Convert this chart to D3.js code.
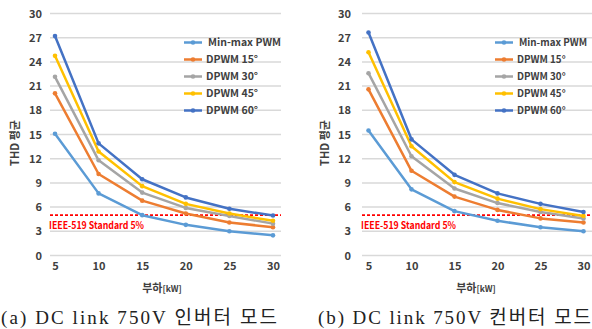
<!DOCTYPE html>
<html>
<head>
<meta charset="utf-8">
<script src="https://cdn.jsdelivr.net/npm/d3@7"></script>
<style>
  html, body { margin: 0; padding: 0; background: #fff; }
  svg { display: block; }
</style>
</head>
<body>
<svg id="chart" width="592" height="329"></svg>
<script>
// 데이터
const loads = [5, 10, 15, 20, 25, 30]
const yTicks = [0, 3, 6, 9, 12, 15, 18, 21, 24, 27, 30]
const seriesNames = ['Min-max PWM', 'DPWM 15°', 'DPWM 30°', 'DPWM 45°', 'DPWM 60°']
const seriesColors = ['#5B9BD5', '#ED7D31', '#A5A5A5', '#FFC000', '#4472C4']
const limitValue = 5

// (a) 인버터 모드
const invMinMax = [15.1, 7.7, 5.0, 3.8, 3.0, 2.5]
const invD15 = [20.1, 10.1, 6.8, 5.2, 4.1, 3.5]
const invD30 = [22.15, 11.8, 7.8, 5.9, 4.9, 3.95]
const invD45 = [24.75, 12.9, 8.6, 6.4, 5.2, 4.3]
const invD60 = [27.2, 13.9, 9.45, 7.2, 5.8, 4.95]

// (b) 컨버터 모드
const convMinMax = [15.5, 8.2, 5.5, 4.3, 3.5, 3.0]
const convD15 = [20.6, 10.5, 7.3, 5.65, 4.6, 4.1]
const convD30 = [22.6, 12.3, 8.3, 6.5, 5.4, 4.6]
const convD45 = [25.2, 13.55, 9.1, 7.05, 5.75, 4.9]
const convD60 = [27.65, 14.4, 10.0, 7.7, 6.4, 5.4]

const FONT = '"Noto Sans CJK KR", "Noto Sans", sans-serif'
const svg = d3.select('#chart')

function drawPanel(cfg) {
  const g = svg.append('g')

  const x = d3.scalePoint().domain(loads).range([cfg.x0, cfg.x1])
  const y = d3.scaleLinear().domain([0, 30]).range([255.5, 13.5])

  // 그리드
  g.append('g')
    .selectAll('line')
    .data(yTicks)
    .enter()
    .append('line')
    .attr('x1', cfg.gx0)
    .attr('x2', cfg.gx1)
    .attr('y1', d => y(d))
    .attr('y2', d => y(d))
    .attr('stroke', '#d9d9d9')
    .attr('stroke-width', 1.5)

  // y축 라벨
  const yAxis = d3.axisLeft(y).tickValues(yTicks).tickSize(0).tickPadding(0)
  const ya = g.append('g').attr('transform', `translate(${cfg.yLabelX},0)`).call(yAxis)
  ya.select('.domain').remove()
  ya.selectAll('text')
    .attr('font-family', FONT)
    .attr('font-weight', 'bold')
    .attr('font-size', 11)
    .attr('fill', '#404040')

  // x축 라벨
  const xAxis = d3.axisBottom(x).tickSize(0).tickPadding(0)
  const xa = g.append('g').attr('transform', 'translate(0,262)').call(xAxis)
  xa.select('.domain').remove()
  xa.selectAll('text')
    .attr('font-family', FONT)
    .attr('font-weight', 'bold')
    .attr('font-size', 11)
    .attr('fill', '#404040')

  // 기준선 5%
  g.append('line')
    .attr('x1', cfg.gx0)
    .attr('x2', cfg.gx1)
    .attr('y1', y(limitValue))
    .attr('y2', y(limitValue))
    .attr('stroke', '#ff0000')
    .attr('stroke-width', 1.8)
    .attr('stroke-dasharray', '3,2')

  g.append('text')
    .attr('x', cfg.gx0 - 1)
    .attr('y', y(limitValue) + 14)
    .attr('font-family', FONT)
    .attr('font-weight', 'bold')
    .attr('font-size', 10)
    .attr('fill', '#ff0000')
    .attr('textLength', 95)
    .attr('lengthAdjust', 'spacingAndGlyphs')
    .text('IEEE-519 Standard 5%')

  // 선 + 마커
  const line = d3.line().x((d, i) => x(loads[i])).y(d => y(d))
  cfg.series.forEach((vals, k) => {
    g.append('path')
      .attr('d', line(vals))
      .attr('fill', 'none')
      .attr('stroke', seriesColors[k])
      .attr('stroke-width', 2.5)
      .attr('stroke-linejoin', 'round')
    g.append('g')
      .selectAll('circle')
      .data(vals)
      .enter()
      .append('circle')
      .attr('cx', (d, i) => x(loads[i]))
      .attr('cy', d => y(d))
      .attr('r', 2.3)
      .attr('fill', seriesColors[k])
  })

  // 범례
  const lg = g.append('g').attr('transform', `translate(${cfg.legX},42.5)`)
  seriesNames.forEach((name, k) => {
    const row = lg.append('g').attr('transform', `translate(0,${k * 17})`)
    row.append('line')
      .attr('x1', 0).attr('x2', 18)
      .attr('stroke', seriesColors[k])
      .attr('stroke-width', 2.5)
    row.append('circle').attr('cx', 9).attr('r', 2.3).attr('fill', seriesColors[k])
    row.append('text')
      .attr('x', k === 0 ? 24 : 22)
      .attr('dy', '0.35em')
      .attr('font-family', FONT)
      .attr('font-weight', 'bold')
      .attr('font-size', cfg.legFont)
      .attr('fill', '#404040')
      .text(name)
  })

  // y축 제목
  g.append('text')
    .attr('transform', `translate(${cfg.yTitleX},143) rotate(-90)`)
    .attr('text-anchor', 'middle')
    .attr('dy', '0.35em')
    .attr('font-family', FONT)
    .attr('font-weight', 'bold')
    .attr('font-size', 11)
    .attr('fill', '#404040')
    .text('THD 평균')

  // x축 제목
  const xt = g.append('text')
    .attr('x', cfg.xTitleX)
    .attr('y', 292)
    .attr('text-anchor', 'middle')
    .attr('font-family', FONT)
    .attr('font-weight', 'bold')
    .attr('fill', '#404040')
  xt.append('tspan').attr('font-size', 11).text('부하')
  xt.append('tspan').attr('font-size', 8.5).text('[kW]')

  // 캡션
  g.append('text')
    .attr('x', cfg.capX)
    .attr('y', 324)
    .attr('font-family', '"Liberation Serif", "Noto Sans CJK KR", serif')
    .attr('font-size', 19)
    .attr('fill', '#222')
    .attr('textLength', cfg.capW)
    .attr('lengthAdjust', 'spacing')
    .text(cfg.caption)
}

drawPanel({
  x0: 55, x1: 273, gx0: 50, gx1: 281,
  yLabelX: 42, yTitleX: 15, xTitleX: 162, legX: 184, legFont: 10.5,
  capX: 1, capW: 276,
  caption: '(a) DC link 750V 인버터 모드',
  series: [invMinMax, invD15, invD30, invD45, invD60]
})

drawPanel({
  x0: 368.5, x1: 583.5, gx0: 362, gx1: 592,
  yLabelX: 351, yTitleX: 325, xTitleX: 476, legX: 495, legFont: 9.8,
  capX: 318, capW: 273,
  caption: '(b) DC link 750V 컨버터 모드',
  series: [convMinMax, convD15, convD30, convD45, convD60]
})
</script>
</body>
</html>
